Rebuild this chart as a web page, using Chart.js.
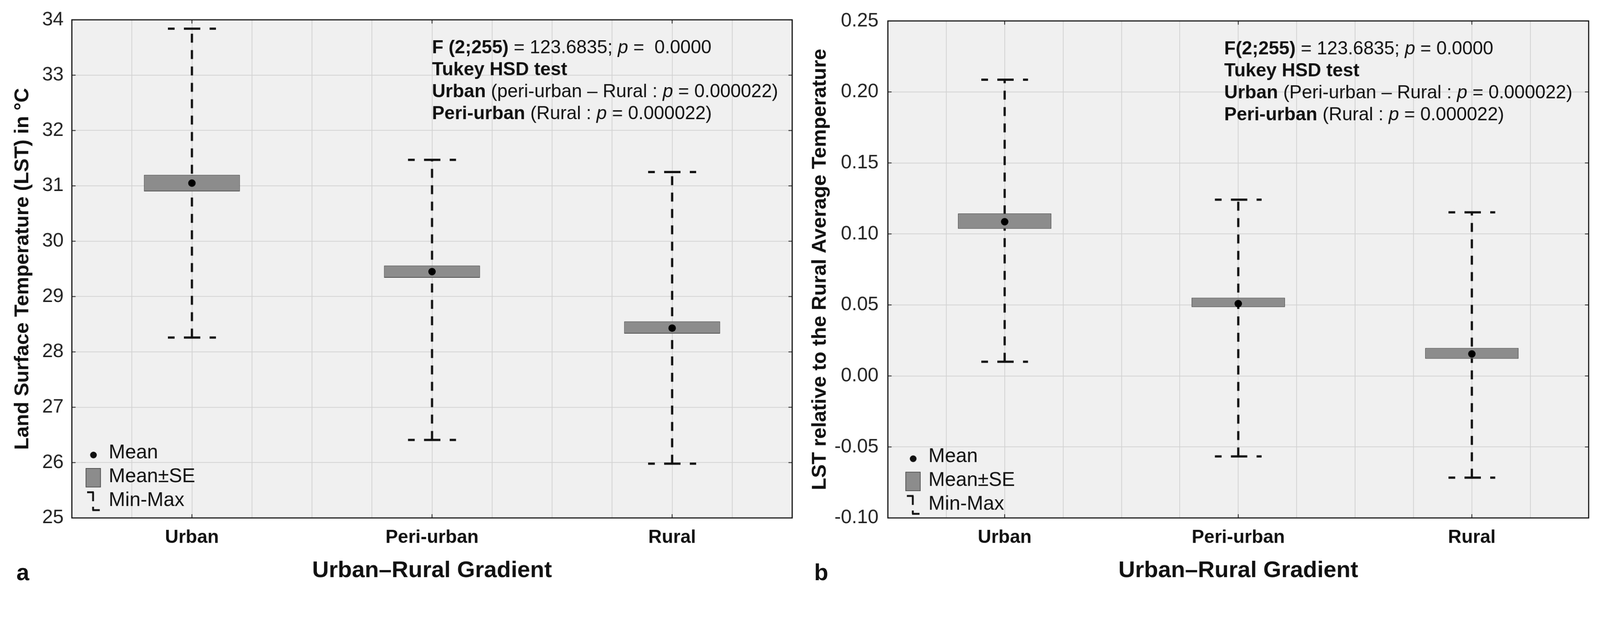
<!DOCTYPE html>
<html>
<head>
<meta charset="utf-8">
<script src="https://cdn.jsdelivr.net/npm/chart.js@4.4.1/dist/chart.umd.min.js"></script>
<style>
  html, body { margin: 0; padding: 0; background: #fff; overflow: hidden; }
  #stage { width: 4298px; height: 1592px; position: relative; transform-origin: 0 0; }
  canvas { position: absolute; top: 0; }
  #chartA { left: 0; }
  #chartB { left: 2160px; }
  .tag { position: absolute; top: 1501px; line-height: 62px; font: bold 62px 'Liberation Sans', Arial, sans-serif; color: #111; }
</style>
</head>
<body>
<div id="stage">
  <canvas id="chartA" width="2160" height="1592"></canvas>
  <canvas id="chartB" width="2138" height="1592"></canvas>
  <div class="tag" style="left:44px">a</div>
  <div class="tag" style="left:2187px">b</div>
</div>

<script>
// categories along the gradient
const categories = ['Urban', 'Peri-urban', 'Rural'];

// panel a: LST in °C
const lstMean   = [31.05, 29.45, 28.43];
const lstSeLow  = [30.90, 29.34, 28.33];
const lstSeHigh = [31.20, 29.56, 28.55];
const lstMin    = [28.26, 26.41, 25.98];
const lstMax    = [33.84, 31.47, 31.25];

// panel b: LST relative to rural average
const relMean   = [0.1086, 0.0509, 0.0155];
const relSeLow  = [0.1036, 0.0485, 0.0121];
const relSeHigh = [0.1144, 0.0551, 0.0197];
const relMin    = [0.0100, -0.0567, -0.0716];
const relMax    = [0.2086, 0.1241, 0.1152];

// y tick ranges
const lstTicks = { min: 25, max: 34, step: 1 };
const relTicks = { min: -0.10, max: 0.25, step: 0.05 };

// annotation text (b = bold, r = regular, i = italic)
const noteA = [
  [['F (2;255)', 'b'], [' = 123.6835; ', 'r'], ['p', 'i'], [' =  0.0000', 'r']],
  [['Tukey HSD test', 'b']],
  [['Urban', 'b'], [' (peri-urban \u2013 Rural : ', 'r'], ['p', 'i'], [' = 0.000022)', 'r']],
  [['Peri-urban', 'b'], [' (Rural : ', 'r'], ['p', 'i'], [' = 0.000022)', 'r']]
];
const noteB = [
  [['F(2;255)', 'b'], [' = 123.6835; ', 'r'], ['p', 'i'], [' = 0.0000', 'r']],
  [['Tukey HSD test', 'b']],
  [['Urban', 'b'], [' (Peri-urban \u2013 Rural : ', 'r'], ['p', 'i'], [' = 0.000022)', 'r']],
  [['Peri-urban', 'b'], [' (Rural : ', 'r'], ['p', 'i'], [' = 0.000022)', 'r']]
];
const legendLabels = ['Mean', 'Mean\u00b1SE', 'Min-Max'];

// fit the 4298x1592 stage into whatever the window really is
const fit = Math.min(window.innerWidth / 4298, window.innerHeight / 1592);
document.getElementById('stage').style.transform = 'scale(' + fit + ')';

const FONT = "'Liberation Sans', Arial, sans-serif";
const NARROW = "'Liberation Sans Narrow', 'Liberation Sans', Arial, sans-serif";
const INK = '#111';

function runFont(st) {
  if (st === 'b') return 'bold 50px ' + FONT;
  if (st === 'i') return 'italic 50px ' + FONT;
  return '50px ' + FONT;
}

function panelPlugin(cfg) {
  return {
    id: 'panel' + cfg.name,
    beforeDraw(chart) {
      const { ctx, chartArea: a } = chart;
      ctx.save();
      ctx.fillStyle = '#f0f0f0';
      ctx.fillRect(a.left, a.top, a.right - a.left, a.bottom - a.top);
      ctx.restore();
    },
    afterDraw(chart) {
      const { ctx, chartArea: a, scales } = chart;
      ctx.save();
      const seg = (x1, y1, x2, y2) => { ctx.beginPath(); ctx.moveTo(x1, y1); ctx.lineTo(x2, y2); ctx.stroke(); };

      // inward tick marks
      ctx.strokeStyle = INK;
      ctx.lineWidth = 2;
      scales.y.ticks.forEach(t => {
        const py = scales.y.getPixelForValue(t.value);
        seg(a.left, py, a.left + 10, py);
        seg(a.right - 10, py, a.right, py);
      });
      categories.forEach((c, i) => {
        const px = scales.x.getPixelForValue(i);
        seg(px, a.bottom, px, a.bottom - 10);
        seg(px, a.top, px, a.top + 10);
      });

      // frame
      ctx.lineWidth = 3;
      ctx.strokeRect(a.left, a.top, a.right - a.left, a.bottom - a.top);

      // test annotation
      ctx.fillStyle = INK;
      ctx.textBaseline = 'middle';
      let ty = a.top + 76;
      const nx = scales.x.getPixelForValue(cfg.noteX);
      cfg.note.forEach(runs => {
        let x = nx;
        runs.forEach(([txt, st]) => {
          ctx.font = runFont(st);
          ctx.fillText(txt, x, ty);
          x += ctx.measureText(txt).width;
        });
        ty += 59;
      });

      // legend
      const lx = a.left + cfg.legendX;
      const rows = [0, 1, 2].map(k => a.bottom - cfg.legendY + k * 64);
      ctx.font = '53px ' + FONT;
      legendLabels.forEach((lab, k) => ctx.fillText(lab, lx, rows[k]));
      ctx.beginPath();
      ctx.arc(lx - 41, rows[0] + 6, 9, 0, Math.PI * 2);
      ctx.fill();
      ctx.fillStyle = '#8c8c8c';
      ctx.strokeStyle = '#505050';
      ctx.lineWidth = 2;
      ctx.fillRect(lx - 61, rows[1] - 22, 39, 50);
      ctx.strokeRect(lx - 61, rows[1] - 22, 39, 50);
      ctx.strokeStyle = INK;
      ctx.lineWidth = 5;
      seg(lx - 58, rows[2] - 22, lx - 40, rows[2] - 22);
      seg(lx - 42, rows[2] - 22, lx - 42, rows[2] + 2);
      seg(lx - 42, rows[2] + 17, lx - 42, rows[2] + 26);
      seg(lx - 44, rows[2] + 26, lx - 24, rows[2] + 26);
      ctx.restore();
    }
  };
}

function boxDatasets(mean, lo, hi, mn, mx) {
  const sets = [];
  sets.push({
    type: 'line', data: mean.map((v, i) => ({ x: i, y: v })), showLine: false,
    pointRadius: 10, pointBackgroundColor: '#000', pointBorderWidth: 0, order: 0
  });
  sets.push({
    type: 'bar', data: lo.map((v, i) => ({ x: i, y: [v, hi[i]] })),
    backgroundColor: '#8c8c8c', borderColor: '#505050', borderWidth: 2, borderSkipped: false,
    categoryPercentage: 1, barPercentage: 1.6, order: 1
  });
  mn.forEach((v, i) => {
    sets.push({
      type: 'line', data: [{ x: i, y: v }, { x: i, y: mx[i] }], borderColor: INK,
      borderWidth: 6, borderDash: [24, 20], pointRadius: 0, order: 2
    });
    [v, mx[i]].forEach(cap => sets.push({
      type: 'line', data: [{ x: i - 0.1, y: cap }, { x: i + 0.1, y: cap }], borderColor: INK,
      borderWidth: 6, borderDash: [44, 25], borderDashOffset: 26, pointRadius: 0, order: 2
    }));
  });
  return sets;
}

function makeChart(id, cfg) {
  return new Chart(document.getElementById(id), {
    type: 'bar',
    data: { datasets: boxDatasets(cfg.mean, cfg.lo, cfg.hi, cfg.mn, cfg.mx) },
    plugins: [panelPlugin(cfg)],
    options: {
      responsive: false,
      animation: false,
      devicePixelRatio: 1,
      events: [],
      layout: { padding: { top: 36, right: cfg.padRight, left: 0, bottom: 0 } },
      plugins: { legend: { display: false }, tooltip: { enabled: false } },
      scales: {
        x: {
          type: 'linear', min: -0.5, max: 2.5, offset: false,
          ticks: {
            stepSize: 0.25, autoSkip: false, maxRotation: 0, padding: 23, color: INK,
            font: { size: 50, weight: 'bold', family: FONT },
            callback: v => Number.isInteger(v) ? categories[v] : ''
          },
          grid: { color: '#d2d2d2', lineWidth: 2, drawTicks: false, offset: false },
          border: { display: false },
          title: {
            display: true, text: 'Urban\u2013Rural Gradient', color: INK,
            font: { size: 62, weight: 'bold', family: FONT }, padding: { top: 0, bottom: 22 }
          },
          afterFit: s => { s.height = 201; }
        },
        y: {
          min: cfg.ticks.min, max: cfg.ticks.max,
          ticks: {
            stepSize: cfg.ticks.step, padding: cfg.tickPad, color: '#222',
            font: { size: 52, family: NARROW },
            callback: cfg.fmt
          },
          grid: { color: '#d2d2d2', lineWidth: 2, drawTicks: false },
          border: { display: false },
          title: {
            display: true, text: cfg.yTitle, color: INK,
            font: { size: 54, weight: 'bold', family: FONT }, padding: { top: cfg.titlePad, bottom: 0 }
          },
          afterFit: s => { s.width = cfg.axisWidth; }
        }
      }
    }
  });
}

makeChart('chartA', {
  name: 'A', mean: lstMean, lo: lstSeLow, hi: lstSeHigh, mn: lstMin, mx: lstMax,
  ticks: lstTicks, fmt: v => String(v), yTitle: 'Land Surface Temperature (LST) in \u00b0C',
  axisWidth: 193, tickPad: 22, titlePad: 29, padRight: 32,
  note: noteA, noteX: 1, legendX: 99, legendY: 175
});

makeChart('chartB', {
  name: 'B', mean: relMean, lo: relSeLow, hi: relSeHigh, mn: relMin, mx: relMax,
  ticks: relTicks, fmt: v => Math.abs(v) < 1e-9 ? '0.00' : Number(v).toFixed(2),
  yTitle: 'LST relative to the Rural Average Temperature',
  axisWidth: 225, tickPad: 25, titlePad: 11, padRight: 30.5,
  note: noteB, noteX: 0.94, legendX: 109, legendY: 165
});
</script>
</body>
</html>
